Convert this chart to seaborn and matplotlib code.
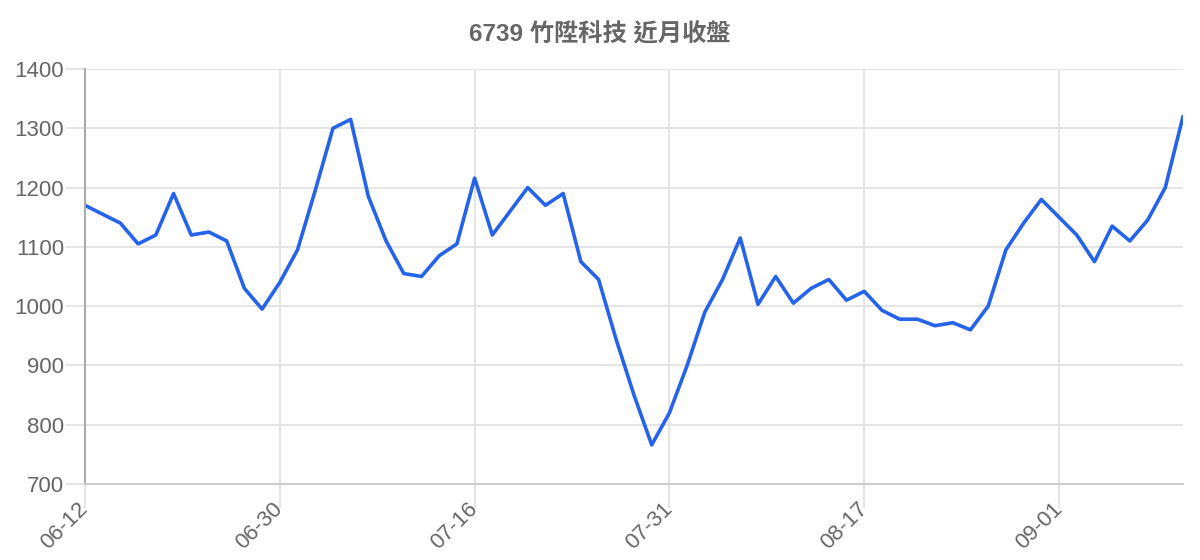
import matplotlib
matplotlib.use("Agg")
import matplotlib.pyplot as plt
import seaborn as sns
import pandas as pd

title = "6739 竹陞科技 近月收盤"
close = [1170, 1155, 1140, 1105, 1120, 1190, 1120, 1125, 1110, 1030,
         995, 1040, 1095, 1195, 1300, 1315, 1185, 1110, 1055, 1050,
         1085, 1105, 1216, 1120, 1160, 1200, 1170, 1190, 1075, 1045,
         943, 850, 766, 820, 900, 990, 1045, 1115, 1003, 1050,
         1005, 1030, 1045, 1010, 1025, 993, 978, 978, 967, 972,
         960, 1000, 1095, 1140, 1180, 1150, 1120, 1075, 1135, 1110,
         1145, 1200, 1320]
tick_pos = [0, 11, 22, 33, 44, 55]
tick_labels = ["06-12", "06-30", "07-16", "07-31", "08-17", "09-01"]
y_ticks = [700, 800, 900, 1000, 1100, 1200, 1300, 1400]

df = pd.DataFrame({"idx": list(range(len(close))), "close": close})

sns.set_theme(style="white")
plt.rcParams["font.family"] = ["Liberation Sans", "Noto Sans CJK TC", "DejaVu Sans"]

fig = plt.figure(figsize=(12, 5.6), dpi=100)
ax = fig.add_axes([85/1200, 1-484/560, (1183-85)/1200, (484-69)/560])

sns.lineplot(data=df, x="idx", y="close", ax=ax, color="#2563eb", linewidth=2.6)

ax.set_xlim(0, len(close) - 1)
ax.set_ylim(700, 1400)
ax.set_xticks(tick_pos)
ax.set_xticklabels(tick_labels, rotation=45, ha="right", va="center", rotation_mode="anchor")
ax.set_yticks(y_ticks)
ax.set_yticklabels([str(v) for v in y_ticks])
ax.set_xlabel("")
ax.set_ylabel("")

ax.grid(True, color="#e0e0e0", linewidth=1.2)
ax.set_axisbelow(True)
for s in ["top", "right"]:
    ax.spines[s].set_visible(False)
ax.spines["left"].set_color("#aaaaaa")
ax.spines["left"].set_linewidth(1.5)
ax.spines["bottom"].set_color("#cccccc")
ax.spines["bottom"].set_linewidth(1.5)

ax.tick_params(axis="y", length=14, width=1.2, color="#e0e0e0", pad=1,
               labelsize=16, labelcolor="#666666", left=True)
ax.tick_params(axis="x", length=17, width=1.2, color="#e0e0e0", pad=-1,
               labelsize=16, labelcolor="#666666", bottom=True)

fig.text(0.5, 1-35/560, title, ha="center", va="center", fontsize=17.5,
         fontweight="bold", color="#666666",
         family=["Liberation Sans", "Noto Sans CJK TC", "DejaVu Sans"])

fig.savefig("out.png", dpi=100, facecolor="white")
